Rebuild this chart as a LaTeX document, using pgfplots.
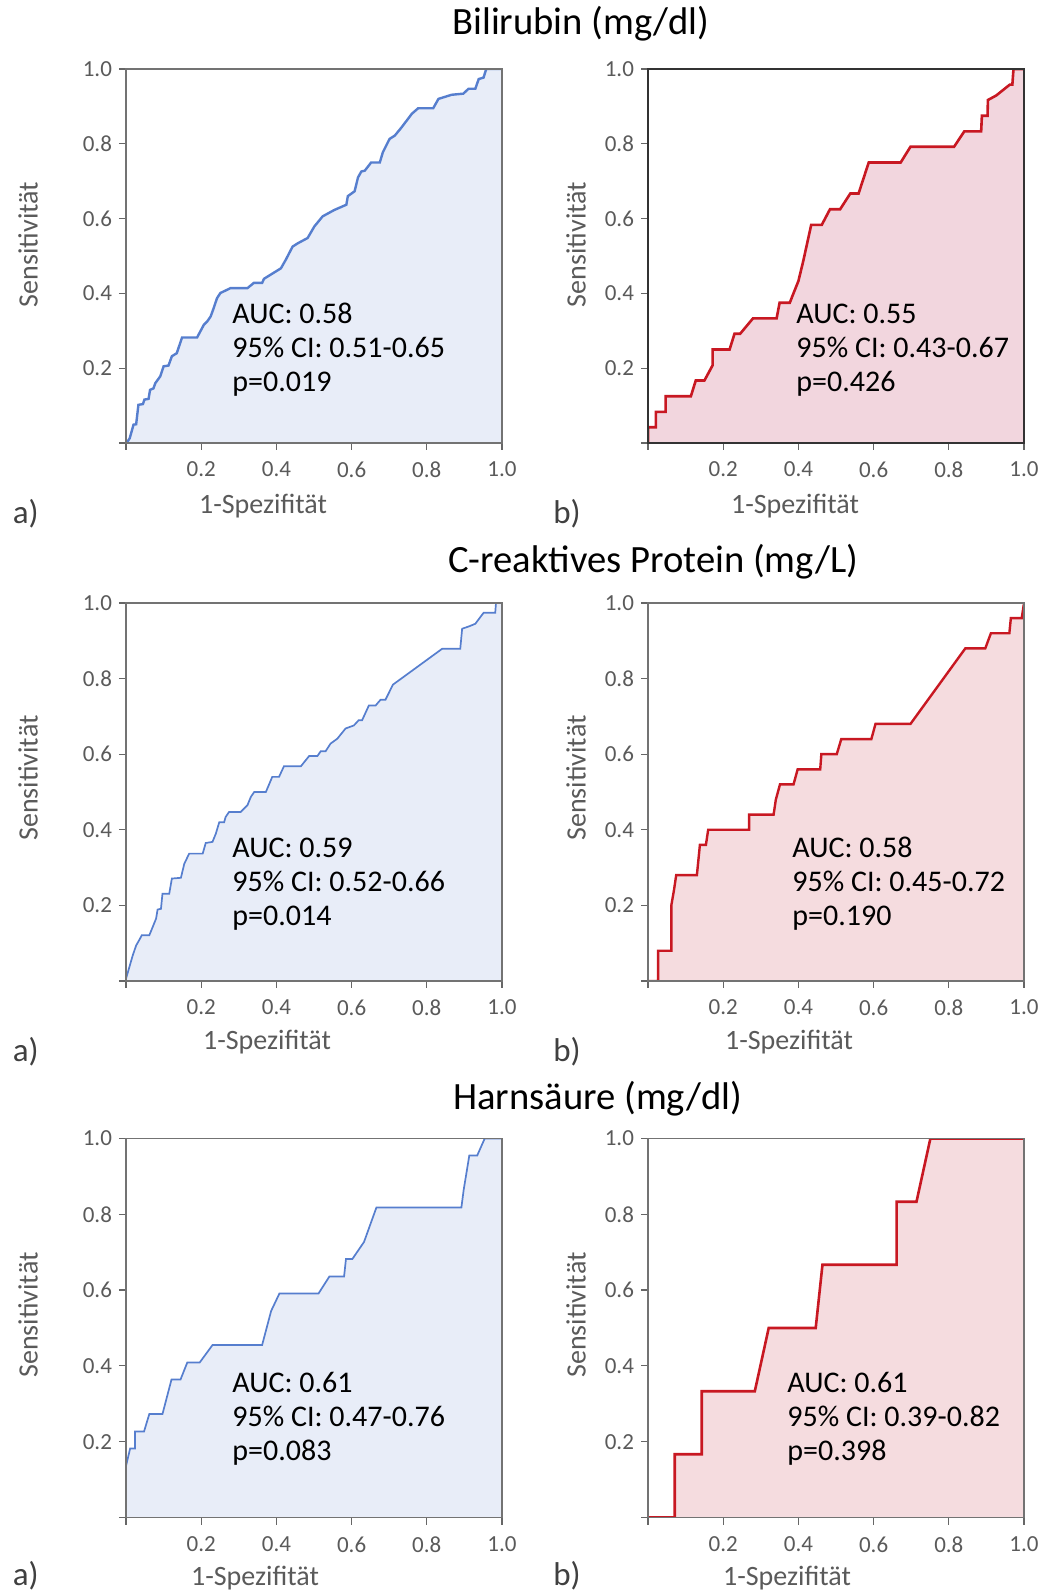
\documentclass[border=0pt]{standalone}
\usepackage{fontspec}
\setmainfont{Carlito}
\usepackage{pgfplots}
\usepackage{pgfplotstable}
\pgfplotsset{compat=1.18}

\definecolor{blueline}{RGB}{86,126,206}
\definecolor{bluefill}{RGB}{232,237,248}
\definecolor{redline}{RGB}{200,24,34}
\definecolor{redfill}{RGB}{242,214,222}
\definecolor{redfillb}{RGB}{245,220,223}
\definecolor{labgray}{RGB}{90,90,90}

% ROC curves, x = 1-Spezifitaet, y = Sensitivitaet
\pgfplotstableread{
x y
0 0
0.005 0.005
0.01 0.013
0.015 0.031
0.02 0.049
0.027 0.05
0.03 0.076
0.033 0.102
0.045 0.104
0.049 0.116
0.06 0.118
0.064 0.142
0.073 0.146
0.078 0.16
0.091 0.178
0.1 0.205
0.113 0.207
0.122 0.232
0.135 0.24
0.149 0.282
0.189 0.282
0.207 0.316
0.216 0.325
0.225 0.338
0.233 0.36
0.242 0.387
0.251 0.401
0.278 0.414
0.323 0.414
0.34 0.428
0.362 0.428
0.367 0.439
0.412 0.467
0.425 0.49
0.443 0.525
0.457 0.534
0.483 0.548
0.501 0.579
0.523 0.606
0.554 0.623
0.586 0.637
0.59 0.66
0.608 0.673
0.617 0.71
0.626 0.726
0.635 0.728
0.652 0.75
0.675 0.75
0.683 0.777
0.701 0.813
0.715 0.822
0.733 0.844
0.76 0.88
0.777 0.895
0.817 0.895
0.831 0.92
0.866 0.931
0.897 0.934
0.911 0.947
0.929 0.947
0.938 0.973
0.951 0.977
0.958 1
1 1
}\bilA

\pgfplotstableread{
x y
0 0
0 0.042
0.021 0.042
0.021 0.083
0.047 0.083
0.047 0.125
0.114 0.125
0.127 0.167
0.15 0.167
0.172 0.208
0.172 0.25
0.217 0.25
0.23 0.292
0.245 0.292
0.279 0.333
0.342 0.333
0.35 0.375
0.377 0.375
0.4 0.433
0.413 0.487
0.434 0.583
0.462 0.583
0.484 0.625
0.511 0.625
0.538 0.667
0.56 0.667
0.587 0.75
0.672 0.75
0.698 0.792
0.814 0.792
0.841 0.833
0.886 0.833
0.888 0.875
0.903 0.875
0.904 0.917
0.926 0.929
0.962 0.958
0.969 0.958
0.972 1
1 1
}\bilB

\pgfplotstableread{
x y
0 0
0 0.006
0.009 0.037
0.018 0.068
0.027 0.094
0.035 0.108
0.042 0.121
0.062 0.121
0.069 0.138
0.08 0.165
0.084 0.189
0.093 0.191
0.097 0.231
0.115 0.231
0.122 0.271
0.146 0.273
0.155 0.31
0.168 0.337
0.204 0.337
0.212 0.365
0.23 0.368
0.239 0.39
0.248 0.42
0.261 0.42
0.265 0.434
0.274 0.447
0.305 0.447
0.323 0.465
0.332 0.487
0.341 0.5
0.372 0.5
0.389 0.54
0.407 0.54
0.42 0.568
0.465 0.568
0.487 0.595
0.509 0.595
0.518 0.608
0.531 0.608
0.544 0.628
0.562 0.641
0.584 0.668
0.606 0.676
0.619 0.69
0.628 0.69
0.646 0.729
0.664 0.729
0.677 0.744
0.69 0.744
0.71 0.784
0.841 0.879
0.889 0.879
0.894 0.932
0.912 0.938
0.929 0.945
0.951 0.974
0.982 0.974
0.984 1
1 1
}\crpA

\pgfplotstableread{
x y
0 0
0.027 0
0.027 0.08
0.062 0.08
0.062 0.2
0.069 0.24
0.075 0.28
0.13 0.28
0.134 0.32
0.138 0.36
0.154 0.36
0.16 0.4
0.269 0.4
0.269 0.44
0.334 0.44
0.34 0.48
0.351 0.52
0.387 0.52
0.398 0.56
0.458 0.56
0.461 0.6
0.502 0.6
0.514 0.64
0.594 0.64
0.605 0.68
0.698 0.68
0.844 0.88
0.897 0.88
0.912 0.92
0.961 0.92
0.965 0.96
0.994 0.96
1 1
}\crpB

\pgfplotstableread{
x y
0 0
0 0.136
0.011 0.182
0.024 0.182
0.024 0.227
0.048 0.227
0.062 0.273
0.097 0.273
0.121 0.364
0.145 0.364
0.163 0.409
0.196 0.409
0.23 0.455
0.362 0.455
0.386 0.545
0.408 0.591
0.512 0.591
0.541 0.636
0.58 0.636
0.585 0.682
0.602 0.682
0.633 0.727
0.666 0.818
0.892 0.818
0.898 0.864
0.913 0.955
0.934 0.955
0.954 1
1 1
}\hsA

\pgfplotstableread{
x y
0 0
0.071 0
0.071 0.167
0.143 0.167
0.143 0.333
0.284 0.333
0.321 0.5
0.446 0.5
0.464 0.667
0.661 0.667
0.661 0.833
0.714 0.833
0.751 1
1 1
}\hsB

\pgfplotsset{
  roc/.style={
    scale only axis, width=188pt, anchor=south west,
    xmin=0, xmax=1, ymin=0, ymax=1,
    axis on top,
    xtick={0,0.2,0.4,0.6,0.8,1}, ytick={0,0.2,0.4,0.6,0.8,1},
    xticklabels={,0.2,0.4,0.6,0.8,1.0},
    yticklabels={,0.2,0.4,0.6,0.8,1.0},
    tick align=outside, tick pos=left, major tick length=3.5pt,
    tick style={black!60, line width=0.6pt},
    axis line style={black!55, line width=0.7pt},
    tick label style={font=\fontsize{11.5}{13}\selectfont, text=labgray},
    xticklabel style={yshift=-2.5pt},
  },
}

\tikzset{txt/.style={anchor=base west, inner sep=0pt},
  lab/.style={text=labgray, font=\fontsize{14}{16}\selectfont},
  ttl/.style={txt, font=\fontsize{19.3}{22}\selectfont}}

\newcommand{\ann}[5]{%
  \node[txt, font=\fontsize{15}{17}\selectfont] at (#1pt,#2pt) {AUC: #3};
  \node[txt, font=\fontsize{15}{17}\selectfont] at (#1pt,#2pt-17pt) {95\% CI: #4};
  \node[txt, font=\fontsize{15}{17}\selectfont] at (#1pt,#2pt-34pt) {p=#5};}

\begin{document}
\begin{tikzpicture}
\useasboundingbox (0,0) rectangle (521.5pt,796.5pt);

% row 1: Bilirubin
\begin{axis}[roc, at={(63pt,575pt)}, height=187pt]
  \addplot[fill=bluefill, draw=none] table {\bilA} \closedcycle;
  \addplot[blueline, line width=1.2pt] table {\bilA};
\end{axis}
\begin{axis}[roc, at={(324pt,575pt)}, height=187pt, axis line style={black!80, line width=0.8pt}]
  \addplot[fill=redfill, draw=none] table {\bilB} \closedcycle;
  \addplot[redline, line width=1.3pt] table {\bilB};
\end{axis}

% row 2: CRP
\begin{axis}[roc, at={(63pt,306pt)}, height=189pt]
  \addplot[fill=bluefill, draw=none] table {\crpA} \closedcycle;
  \addplot[blueline, line width=0.85pt] table {\crpA};
\end{axis}
\begin{axis}[roc, at={(324pt,306pt)}, height=189pt]
  \addplot[fill=redfillb, draw=none] table {\crpB} \closedcycle;
  \addplot[redline, line width=1.2pt] table {\crpB};
\end{axis}

% row 3: Harnsaeure
\begin{axis}[roc, at={(63pt,37.75pt)}, height=189.5pt]
  \addplot[fill=bluefill, draw=none] table {\hsA} \closedcycle;
  \addplot[blueline, line width=0.85pt] table {\hsA};
\end{axis}
\begin{axis}[roc, at={(324pt,37.75pt)}, height=189.5pt]
  \addplot[fill=redfillb, draw=none] table {\hsB} \closedcycle;
  \addplot[redline, line width=1.3pt] table {\hsB};
\end{axis}

% titles
\node[ttl] at (226pt,779pt) {Bilirubin (mg/dl)};
\node[ttl] at (224pt,510pt) {C-reaktives Protein (mg/L)};
\node[ttl] at (226.5pt,241.5pt) {Harnsäure (mg/dl)};

% axis labels
\foreach \yy in {674.25,407.5,139} {
  \node[lab, rotate=90] at (14pt,\yy pt) {Sensitivität};
  \node[lab, rotate=90] at (288pt,\yy pt) {Sensitivität};
}
\node[lab, anchor=base] at (131.5pt,539.5pt) {1-Spezifität};
\node[lab, anchor=base] at (397.5pt,539.5pt) {1-Spezifität};
\node[lab, anchor=base] at (133.5pt,271.5pt) {1-Spezifität};
\node[lab, anchor=base] at (394.5pt,271.5pt) {1-Spezifität};
\node[lab, anchor=base] at (127.5pt,3.5pt) {1-Spezifität};
\node[lab, anchor=base] at (393.5pt,3.5pt) {1-Spezifität};

% panel letters
\foreach \yy in {534.5,265.5,4} {
  \node[txt, text=black!75, font=\fontsize{16.5}{19}\selectfont] at (6.25pt,\yy pt) {a)};
  \node[txt, text=black!75, font=\fontsize{16.5}{19}\selectfont] at (276.5pt,\yy pt) {b)};
}

% statistics
\ann{116}{634.5}{0.58}{0.51-0.65}{0.019}
\ann{398}{634.5}{0.55}{0.43-0.67}{0.426}
\ann{116}{367.5}{0.59}{0.52-0.66}{0.014}
\ann{396}{367.5}{0.58}{0.45-0.72}{0.190}
\ann{116}{100}{0.61}{0.47-0.76}{0.083}
\ann{393.5}{100}{0.61}{0.39-0.82}{0.398}
\end{tikzpicture}
\end{document}
